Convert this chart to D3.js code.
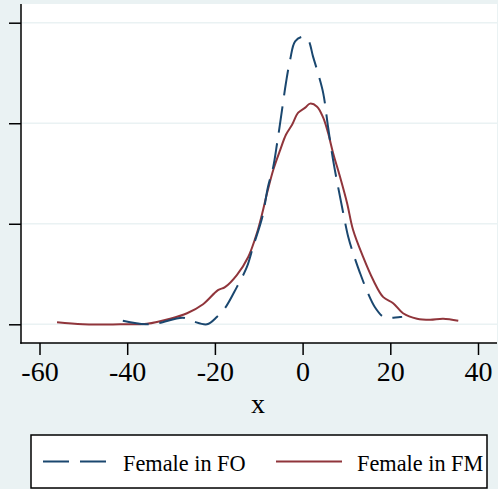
<!DOCTYPE html>
<html>
<head>
<meta charset="utf-8">
<script src="https://cdn.jsdelivr.net/npm/d3@7"></script>
<style>
  html, body { margin: 0; padding: 0; background: #EAF2F3; }
  svg { display: block; }
  text { font-family: "Liberation Serif", "Times New Roman", serif; fill: #000; }
</style>
</head>
<body>
<svg id="chart" width="498" height="489"></svg>
<script>
// ---- data (kernel density estimates) ----
const foX = [-41, -35.9, -33, -27.3, -25, -21.8, -19.5, -17.7, -15, -12.7, -11.3, -9.2, -7.9, -6.7, -5.8, -4.7, -3.8, -2.85, -1.7, 0.1, 1.25, 2.4, 3.5, 4.7, 5.8, 6.95, 8.1, 9.25, 10.4, 11.5, 13.1, 14.9, 16.5, 18.4, 19.95, 22.7];
const foY = [0.0007, 0.0000, 0.0002, 0.0013, 0.0006, 0.0000, 0.0015, 0.0032, 0.0074, 0.0114, 0.0154, 0.0213, 0.0273, 0.0313, 0.0361, 0.0426, 0.0480, 0.0526, 0.0563, 0.0572, 0.0566, 0.0532, 0.0500, 0.0460, 0.0393, 0.0327, 0.0273, 0.0222, 0.0174, 0.0142, 0.0102, 0.0062, 0.0034, 0.0015, 0.0013, 0.0015];
const fmX = [-56, -50.1, -41.6, -35.5, -30.2, -26.35, -22.7, -19.3, -17.7, -15, -12.4, -10.4, -9.2, -8.1, -6.7, -5.1, -3.8, -2.4, -1.0, 0.6, 1.7, 3.3, 4.7, 5.8, 6.95, 8.55, 10.15, 11.5, 13.8, 16.1, 18.4, 20.65, 22.9, 26.1, 29.1, 32.05, 35.5];
const fmY = [0.0004, 0.0000, 0.0000, 0.0001, 0.0011, 0.0022, 0.0040, 0.0068, 0.0074, 0.0098, 0.0134, 0.0182, 0.0221, 0.0261, 0.0307, 0.0347, 0.0377, 0.0397, 0.0421, 0.0431, 0.0439, 0.0433, 0.0411, 0.0381, 0.0341, 0.0293, 0.0241, 0.0188, 0.0134, 0.0088, 0.0054, 0.0042, 0.0022, 0.0011, 0.0009, 0.0011, 0.0007];
const xTicks = [-60, -40, -20, 0, 20, 40];
const yTicks = [0, 0.02, 0.04, 0.06];
const seriesNames = ["Female in FO", "Female in FM"];
const xTitle = "x";

// ---- layout ----
const svg = d3.select("#chart");
const plot = { left: 21, right: 497, top: 4, bottom: 343 };
const colors = ["#1A476F", "#90353B"];
const bg = "#EAF2F3";

const x = d3.scaleLinear().domain([-60, 40]).range([39.5, 478]);
const y = d3.scaleLinear().domain([0, 0.06]).range([324.3, 22.7]);

svg.append("rect").attr("width", 498).attr("height", 489).attr("fill", bg);
svg.append("rect")
  .attr("x", plot.left).attr("y", plot.top)
  .attr("width", plot.right - plot.left).attr("height", plot.bottom - plot.top)
  .attr("fill", "#fff");

// gridlines
svg.append("g").selectAll("line").data(yTicks).join("line")
  .attr("x1", plot.left).attr("x2", plot.right)
  .attr("y1", d => y(d)).attr("y2", d => y(d))
  .attr("stroke", bg).attr("stroke-width", 1.6);

// curves
const line = d3.line().x(d => x(d[0])).y(d => y(d[1])).curve(d3.curveCatmullRom.alpha(0.5));
const foData = d3.zip(foX, foY);
const fmData = d3.zip(fmX, fmY);

svg.append("path").datum(fmData).attr("d", line)
  .attr("fill", "none").attr("stroke", colors[1]).attr("stroke-width", 2);
svg.append("path").datum(foData).attr("d", line)
  .attr("fill", "none").attr("stroke", colors[0]).attr("stroke-width", 2)
  .attr("stroke-dasharray", "26,11");

// axes
const yAxis = svg.append("g").attr("transform", `translate(${plot.left},0)`)
  .call(d3.axisLeft(y).tickValues(yTicks).tickSize(12).tickFormat(() => ""));
yAxis.select(".domain").remove();
yAxis.selectAll("line").attr("stroke", "#000").attr("stroke-width", 1.5);
svg.append("line").attr("x1", plot.left).attr("x2", plot.left)
  .attr("y1", plot.top).attr("y2", plot.bottom + 0.75)
  .attr("stroke", "#000").attr("stroke-width", 1.5);

const xAxis = svg.append("g").attr("transform", `translate(0,${plot.bottom})`)
  .call(d3.axisBottom(x).tickValues(xTicks).tickSize(12).tickPadding(6).tickFormat(d3.format("d")));
xAxis.select(".domain").remove();
xAxis.selectAll("line").attr("stroke", "#000").attr("stroke-width", 1.5);
xAxis.selectAll("text")
  .attr("font-family", "'Liberation Serif', 'Times New Roman', serif")
  .attr("font-size", 28).attr("fill", "#000")
  .text(d => d < 0 ? "-" + Math.abs(d) : String(d));
svg.append("line").attr("x1", plot.left - 0.75).attr("x2", plot.right)
  .attr("y1", plot.bottom).attr("y2", plot.bottom)
  .attr("stroke", "#000").attr("stroke-width", 1.5);

svg.append("text").attr("x", 258).attr("y", 413)
  .attr("text-anchor", "middle").attr("font-size", 28).text(xTitle);

// legend
const lg = svg.append("g");
lg.append("rect").attr("x", 31).attr("y", 435).attr("width", 456).attr("height", 53)
  .attr("fill", "#fff").attr("stroke", "#000").attr("stroke-width", 1.5);
const ly = 461.5;
lg.append("line").attr("x1", 43).attr("x2", 106).attr("y1", ly).attr("y2", ly)
  .attr("stroke", colors[0]).attr("stroke-width", 2).attr("stroke-dasharray", "26,11");
lg.append("text").attr("x", 123).attr("y", 471).attr("font-size", 22.3).text(seriesNames[0]);
lg.append("line").attr("x1", 276).attr("x2", 342).attr("y1", ly).attr("y2", ly)
  .attr("stroke", colors[1]).attr("stroke-width", 2);
lg.append("text").attr("x", 357).attr("y", 471).attr("font-size", 22.3).text(seriesNames[1]);
</script>
</body>
</html>
